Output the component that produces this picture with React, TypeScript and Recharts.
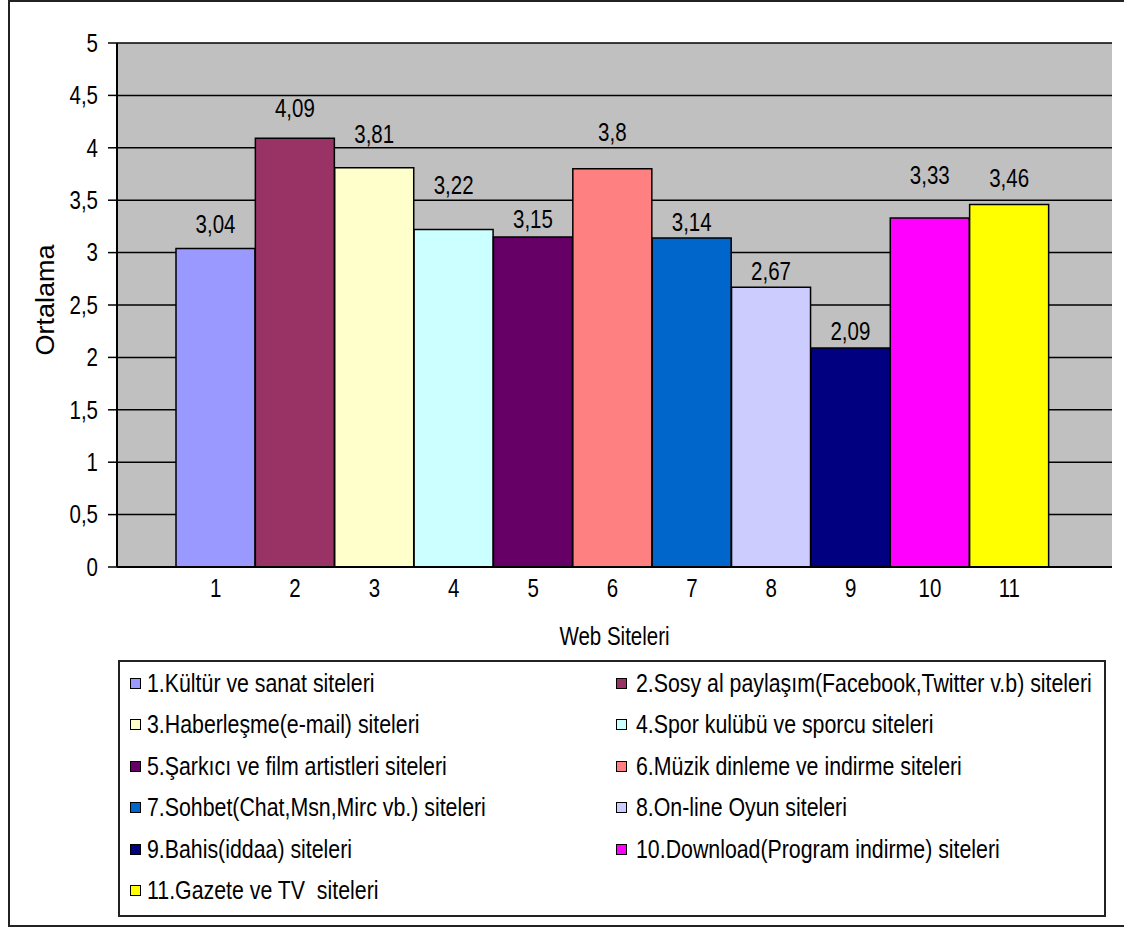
import React from 'react';
import { BarChart, Bar, XAxis, YAxis, CartesianGrid, Cell, LabelList } from 'recharts';

const categories = ['1', '2', '3', '4', '5', '6', '7', '8', '9', '10', '11'];
const averages = [3.04, 4.09, 3.81, 3.22, 3.15, 3.8, 3.14, 2.67, 2.09, 3.33, 3.46];
const siteNames = [
  '1.Kültür ve sanat siteleri',
  '2.Sosy al paylaşım(Facebook,Twitter v.b) siteleri',
  '3.Haberleşme(e-mail) siteleri',
  '4.Spor kulübü ve sporcu siteleri',
  '5.Şarkıcı ve film artistleri siteleri',
  '6.Müzik dinleme ve indirme siteleri',
  '7.Sohbet(Chat,Msn,Mirc vb.) siteleri',
  '8.On-line Oyun siteleri',
  '9.Bahis(iddaa) siteleri',
  '10.Download(Program indirme) siteleri',
  '11.Gazete ve TV  siteleri',
];
const barColors = [
  '#9999FF', '#993366', '#FFFFCC', '#CCFFFF', '#660066', '#FF8080',
  '#0066CC', '#CCCCFF', '#000080', '#FF00FF', '#FFFF00',
];
const yTicks = [0, 0.5, 1, 1.5, 2, 2.5, 3, 3.5, 4, 4.5, 5];

// Gap in px between each bar top and the baseline of its value label
const labelLift = [15, 21, 25, 36, 9, 28, 7, 7, 8, 34, 17];

const data = categories.map((c, i) => ({ site: c, value: averages[i] }));

const FONT = '"Liberation Sans", Arial, sans-serif';
const FS = 25;
const SX = 0.82; // horizontal squeeze for a narrow face
const fmt = (v: any) => String(v).replace('.', ',');

// Condensed text drawn at (x, y)
function NarrowText({ x, y, anchor, dy, rotate, sx = SX, children }: any) {
  const rot = rotate ? ` rotate(${rotate})` : '';
  return (
    <text
      transform={`translate(${x},${y})${rot} scale(${sx},1)`}
      textAnchor={anchor}
      dy={dy}
      fill="#000"
      fontSize={FS}
      fontFamily={FONT}
    >
      {children}
    </text>
  );
}

const YTick = ({ x, y, payload }: any) => (
  <NarrowText x={x} y={y} anchor="end" dy="0.35em">{fmt(payload.value)}</NarrowText>
);

const XTick = ({ x, y, payload }: any) => (
  <NarrowText x={x} y={y} anchor="middle" dy="0.71em">{payload.value}</NarrowText>
);

const ValueLabel = ({ x, y, width, value, index }: any) => (
  <NarrowText x={Number(x) + Number(width) / 2} y={Number(y) - labelLift[index]} anchor="middle">{fmt(value)}</NarrowText>
);

const XTitle = ({ viewBox }: any) => (
  <NarrowText x={viewBox.x + viewBox.width / 2} y={645} anchor="middle">Web Siteleri</NarrowText>
);

const YTitle = () => (
  <NarrowText x={54} y={300} anchor="middle" rotate={-90} sx={1.08}>Ortalama</NarrowText>
);

export default function App() {
  return (
    <div style={{ position: 'absolute', left: 0, top: 0, width: 1124, height: 927, background: '#fff', overflow: 'hidden' }}>
      <div style={{ position: 'absolute', left: 8, top: 0, width: 1140, height: 927, border: '2px solid #222', boxSizing: 'border-box' }} />
      <BarChart
        width={1124}
        height={927}
        data={data}
        margin={{ top: 43, right: 12, left: 17, bottom: 330 }}
        barCategoryGap={0}
        style={{ position: 'absolute', left: 0, top: 0 }}
      >
        <CartesianGrid vertical={false} stroke="#000" strokeWidth={1.5} fill="#C0C0C0" />
        <XAxis
          dataKey="site"
          height={30}
          padding={{ left: 59, right: 63 }}
          tickLine={false}
          tickSize={6}
          tickMargin={6}
          axisLine={{ stroke: '#000', strokeWidth: 2 }}
          tick={<XTick />}
          label={<XTitle />}
        />
        <YAxis
          width={100}
          domain={[0, 5]}
          ticks={yTicks}
          interval={0}
          tickSize={9}
          tickMargin={10}
          tickLine={{ stroke: '#000', strokeWidth: 1.5 }}
          axisLine={{ stroke: '#000', strokeWidth: 2 }}
          tick={<YTick />}
          label={<YTitle />}
        />
        <Bar dataKey="value" isAnimationActive={false} stroke="#000" strokeWidth={1.5}>
          {data.map((_, i) => (
            <Cell key={i} fill={barColors[i]} />
          ))}
          <LabelList dataKey="value" content={<ValueLabel />} />
        </Bar>
      </BarChart>
      <div
        style={{
          position: 'absolute', left: 118, top: 660, width: 988, height: 257,
          border: '2px solid #222', boxSizing: 'border-box', background: '#fff',
        }}
      >
        {siteNames.map((name, i) => {
          const col = i % 2;
          const row = Math.floor(i / 2);
          return (
            <div
              key={name}
              style={{
                position: 'absolute', left: col === 0 ? 10 : 496, top: 6 + row * 41.5,
                height: 30, display: 'flex', alignItems: 'center', whiteSpace: 'pre',
                fontSize: 26, color: '#000', fontFamily: FONT,
              }}
            >
              <span style={{ display: 'inline-block', width: 9, height: 9, border: '1.5px solid #000', background: barColors[i], marginRight: col === 0 ? 6 : 9 }} />
              <span style={{ display: 'inline-block', transform: `scaleX(${SX})`, transformOrigin: 'left center' }}>{name}</span>
            </div>
          );
        })}
      </div>
    </div>
  );
}
